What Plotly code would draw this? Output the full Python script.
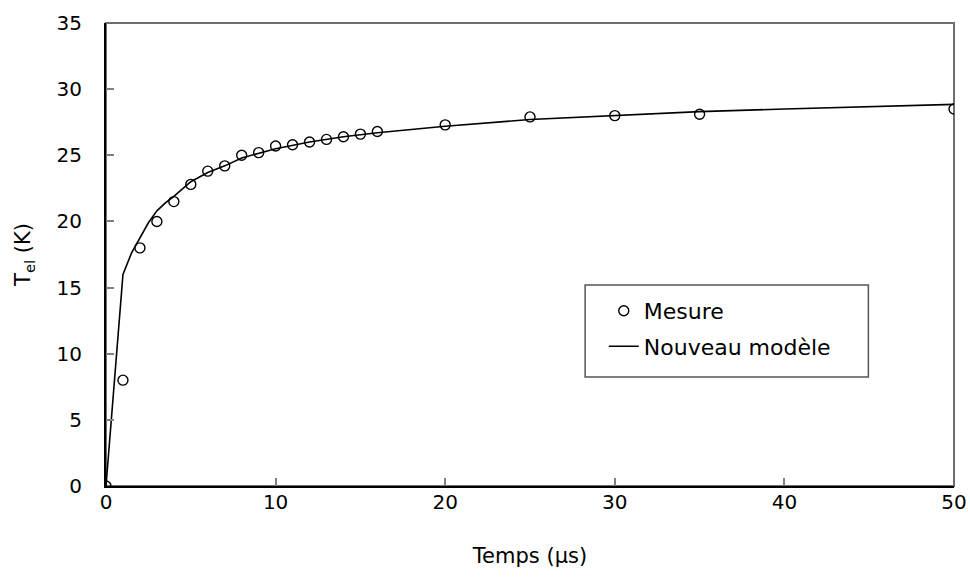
import plotly.graph_objects as go

# Measured points
mesure_t = [0, 1, 2, 3, 4, 5, 6, 7, 8, 9, 10, 11, 12, 13, 14, 15, 16, 20, 25, 30, 35, 50]
mesure_T = [0, 8.0, 18.0, 20.0, 21.5, 22.8, 23.8, 24.2, 25.0, 25.2, 25.7, 25.8, 26.0, 26.2, 26.4, 26.6, 26.8, 27.3, 27.9, 28.0, 28.1, 28.5]

# Model curve
modele_t = [0, 0.5, 1, 1.5, 2, 2.5, 3, 3.5, 4, 5, 6, 7, 8, 10, 12, 14, 16, 20, 25, 30, 35, 40, 45, 50]
modele_T = [0, 8.3, 16.0, 17.6, 18.8, 19.9, 20.8, 21.4, 21.9, 23.0, 23.7, 24.2, 24.8, 25.5, 26.0, 26.4, 26.7, 27.2, 27.7, 28.0, 28.3, 28.5, 28.7, 28.85]

x_ticks = [0, 10, 20, 30, 40, 50]
y_ticks = [0, 5, 10, 15, 20, 25, 30, 35]

font = "DejaVu Sans, Liberation Sans, Arial, sans-serif"

fig = go.Figure()
fig.add_trace(go.Scatter(
    x=mesure_t, y=mesure_T, mode="markers", name="Mesure", legendgroup="a",
    marker=dict(symbol="circle-open", size=10, color="black", line=dict(width=1.4, color="black")),
))
fig.add_trace(go.Scatter(
    x=modele_t, y=modele_T, mode="lines", name="Nouveau modèle", legendgroup="b",
    line=dict(color="black", width=1.6),
))

# gray frame (top/right)
fig.add_shape(type="rect", xref="paper", yref="paper", x0=0, y0=0, x1=1, y1=1,
              line=dict(color="#6e6e6e", width=2), layer="below")
# legend box
fig.add_shape(type="rect", xref="paper", yref="paper", x0=0.565, y0=0.2354, x1=0.899, y1=0.434,
              line=dict(color="#555555", width=1.5), fillcolor="white", layer="below")

fig.update_layout(
    width=970, height=577,
    margin=dict(l=106, r=16, t=23, b=91),
    plot_bgcolor="white", paper_bgcolor="white",
    font=dict(family=font, size=20, color="black"),
    showlegend=True,
    legend=dict(
        x=0.587, y=0.4235, xanchor="left", yanchor="top",
        borderwidth=0, bgcolor="rgba(0,0,0,0)",
        font=dict(size=22, family=font, color="black"),
        itemwidth=30, traceorder="grouped", tracegroupgap=4,
    ),
    xaxis=dict(
        range=[0, 50], tickvals=x_ticks, ticks="inside", ticklen=8, tickwidth=2,
        tickcolor="#808080", showline=True, linecolor="black", linewidth=2,
        showgrid=False, zeroline=False, automargin=False,
        ticklabelstandoff=-3,
        title=dict(text="Temps (µs)", standoff=35, font=dict(size=21)),
        tickfont=dict(size=20),
    ),
    yaxis=dict(
        range=[0, 35], tickvals=y_ticks, ticks="inside", ticklen=8, tickwidth=2,
        tickcolor="#808080", showline=True, linecolor="black", linewidth=2,
        showgrid=False, zeroline=False, automargin=False,
        ticklabelstandoff=18,
        title=dict(text="T<sub>el</sub> (K)", standoff=20, font=dict(size=21)),
        tickfont=dict(size=20),
    ),
)

fig.write_html("out.html")
